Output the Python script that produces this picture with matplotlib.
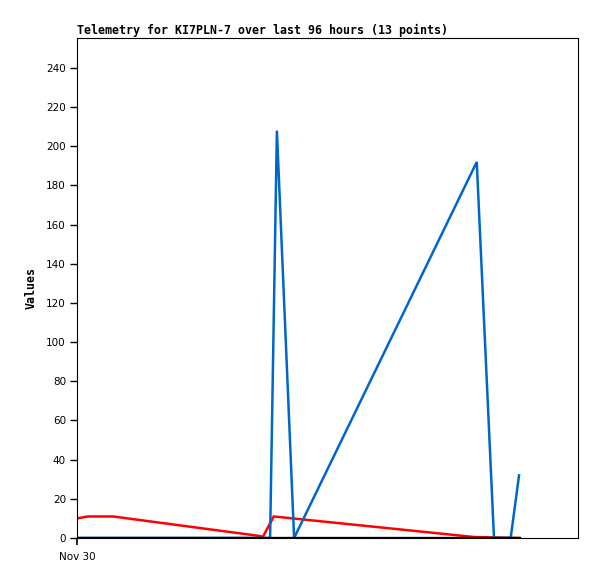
import matplotlib
matplotlib.use("Agg")
import matplotlib.pyplot as plt

# hours since Nov 30 00:00
blue_hours = [0, 37.0, 38.3, 41.6, 76.6, 79.9, 83.1, 84.7]
blue_vals = [0, 0, 208, 0, 192, 0, 0, 32]

red_hours = [0, 2.1, 6.9, 35.1, 35.6, 37.7, 76.1, 84.7]
red_vals = [10, 11, 11, 1, 0.5, 11, 0.5, 0]

black_hours = [0, 84.7]
black_vals = [0, 0]

yticks = list(range(0, 241, 20))
xtick_pos = [0]
xtick_labels = ["Nov 30"]

fig = plt.figure(figsize=(5.97, 5.79), dpi=100)
ax = fig.add_axes([77 / 597, 41 / 579, 501 / 597, 500 / 579])

ax.plot(red_hours, red_vals, color="#ff0000", lw=1.8, solid_joinstyle="miter")
ax.plot(blue_hours, blue_vals, color="#0066cc", lw=1.8, solid_joinstyle="miter")
ax.plot(black_hours, black_vals, color="black", lw=2.4)

ax.set_xlim(0, 96)
ax.set_ylim(0, 255.3)
ax.set_yticks(yticks)
ax.set_xticks(xtick_pos)
ax.set_xticklabels(xtick_labels)
ax.tick_params(direction="out", length=5, width=1, labelsize=7.5, pad=3)
ax.tick_params(axis="x", pad=5, width=1.2)
for sp in ax.spines.values():
    sp.set_linewidth(0.8)

ax.set_title("Telemetry for KI7PLN-7 over last 96 hours (13 points)",
             loc="left", fontsize=8.35, fontweight="bold",
             family="DejaVu Sans Mono", pad=3)
ax.set_ylabel("Values", fontsize=8.35, fontweight="bold",
              family="DejaVu Sans Mono", labelpad=6)

fig.savefig("out.png", dpi=100)
